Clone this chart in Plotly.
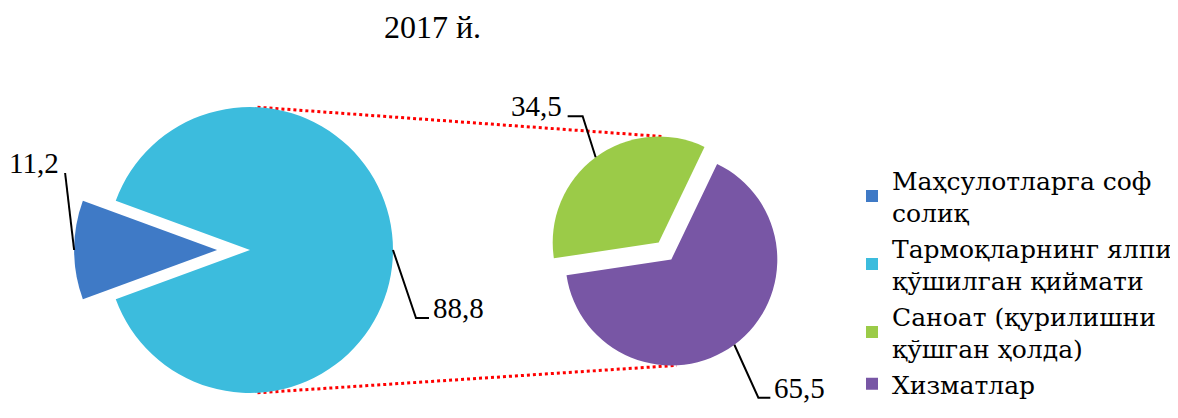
import math
import plotly.graph_objects as go

W, H = 1178, 418
OFF = 8  # default page margin of the html body

title_text = "2017 й."
main_labels = ["Маҳсулотларга соф<br>солиқ", "Тармоқларнинг ялпи<br>қўшилган қиймати"]
main_values = [11.2, 88.8]
main_colors = ["#3F7AC6", "#3CBCDD"]
sub_labels = ["Саноат (қурилишни<br>қўшган ҳолда)", "Хизматлар"]
sub_values = [34.5, 65.5]
sub_colors = ["#9BCB48", "#7856A5"]

FONT = "Liberation Serif"
LEGEND_FONT = "DejaVu Serif"

# geometry (page pixels)
L_cx, L_cy, L_r, L_pull = 250, 250, 143, 0.23
R_cx, R_cy, R_r, R_pull = 665, 251, 106, 0.10


def fmt(v):
    return f"{v:.1f}".replace(".", ",")


def polar(cx, cy, r, ang):
    a = math.radians(ang)
    return cx + r * math.sin(a), cy - r * math.cos(a)


def px(x):
    return (x - OFF) / W


def py(y):
    return 1 - (y - OFF) / H


def domain(cx, cy, r, pull):
    h = r * (1 + pull)
    return dict(x=[max(0, px(cx - h)), min(1, px(cx + h))],
                y=[max(0, py(cy + h)), min(1, py(cy - h))])


def slice_mids(values, rotation):
    tot = sum(values)
    mids, a = [], rotation
    for v in values:
        span = 360 * v / tot
        mids.append(a + span / 2)
        a += span
    return mids


main_rot = 270 - 360 * main_values[0] / sum(main_values) / 2
sub_rot = 323.5 - 360 * sub_values[0] / sum(sub_values) / 2
main_pulls = [L_pull, 0]
sub_pulls = [R_pull, R_pull]

fig = go.Figure()
fig.add_trace(go.Pie(
    labels=main_labels, values=main_values, sort=False, direction="clockwise",
    rotation=main_rot, pull=main_pulls, textinfo="none", hoverinfo="label+value",
    marker=dict(colors=main_colors, line=dict(width=0)),
    domain=domain(L_cx, L_cy, L_r, L_pull),
))
fig.add_trace(go.Pie(
    labels=sub_labels, values=sub_values, sort=False, direction="clockwise",
    rotation=sub_rot, pull=sub_pulls, textinfo="none", hoverinfo="label+value",
    marker=dict(colors=sub_colors, line=dict(width=0)),
    domain=domain(R_cx, R_cy, R_r, R_pull),
))

shapes, annotations = [], []

# anchor points on slice outer arcs
main_mids = slice_mids(main_values, main_rot)
sub_mids = slice_mids(sub_values, sub_rot)
anchors = []
for v, m, p in zip(main_values, main_mids, main_pulls):
    c = polar(L_cx, L_cy, p * L_r, m)
    anchors.append((v, polar(c[0], c[1], L_r, m), c))
for v, m, p in zip(sub_values, sub_mids, sub_pulls):
    c = polar(R_cx, R_cy, p * R_r, m)
    anchors.append((v, polar(c[0], c[1], R_r, m), c))

# leader layout: (elbow offset, horizontal length, text side)
leader_cfg = [
    ((-9, -77), 0, "right"),
    ((23, 68), 13, "left"),
    ((-13, -41), -15, "right"),
    ((24, 53), 12, "left"),
]
for (v, (ax, ay), _), ((dx, dy), hl, side) in zip(anchors, leader_cfg):
    ex, ey = ax + dx, ay + dy
    hx = ex + hl
    path = f"M {px(ax)} {py(ay)} L {px(ex)} {py(ey)} L {px(hx)} {py(ey)}"
    shapes.append(dict(type="path", xref="paper", yref="paper", path=path,
                       line=dict(color="black", width=2)))
    if side == "left":
        tx, xa = hx + 2, "left"
    else:
        tx, xa = hx - 4, "right"
    ty = ey - 10
    annotations.append(dict(text=fmt(v), x=px(tx), y=py(ty), xref="paper", yref="paper",
                            xanchor=xa, yanchor="middle", showarrow=False,
                            font=dict(family=FONT, size=29, color="black")))

# red dotted connector lines between the pies
left_top = polar(L_cx, L_cy, L_r, 3)
left_bot = polar(L_cx, L_cy, L_r, 177)
g_c = anchors[2][2]
p_c = anchors[3][2]
right_top = polar(g_c[0], g_c[1], R_r, 3)
right_bot = polar(p_c[0], p_c[1], R_r, 177)
for a, b in [(left_top, right_top), (left_bot, right_bot)]:
    shapes.append(dict(type="line", xref="paper", yref="paper", layer="below",
                       x0=px(a[0]), y0=py(a[1]), x1=px(b[0]), y1=py(b[1]),
                       line=dict(color="#FF0000", width=3, dash="dot")))

fig.update_layout(
    width=W, height=H,
    margin=dict(l=0, r=0, t=0, b=0, autoexpand=False),
    paper_bgcolor="white", plot_bgcolor="white",
    title=dict(text=title_text, x=px(432.5), xanchor="center", y=py(27), yanchor="middle",
               font=dict(family=FONT, size=32, color="black")),
    legend=dict(x=px(852), xanchor="left", y=py(157), yanchor="top",
                font=dict(family=LEGEND_FONT, size=25, color="black"),
                bgcolor="rgba(0,0,0,0)", tracegroupgap=0, itemclick=False),
    shapes=shapes, annotations=annotations,
    showlegend=True,
)

fig.write_html("out.html")
